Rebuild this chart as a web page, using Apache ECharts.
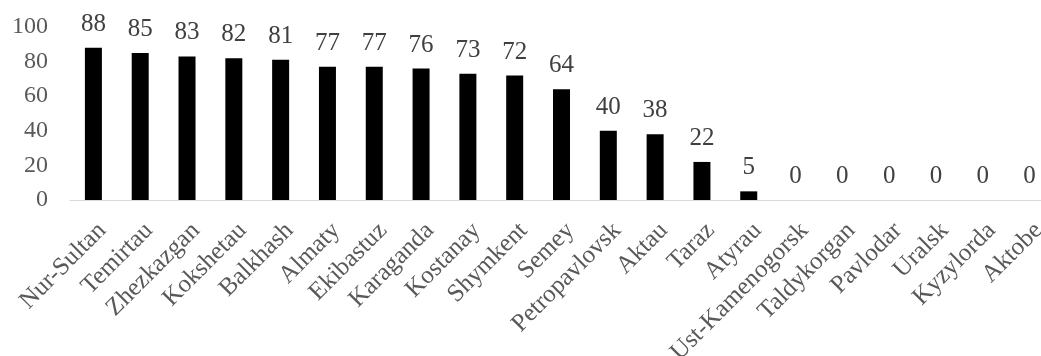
<!DOCTYPE html>
<html>
<head>
<meta charset="utf-8">
<script src="https://cdn.jsdelivr.net/npm/echarts@6/dist/echarts.min.js"></script>
<style>
  html, body { margin: 0; padding: 0; background: #fff; overflow: hidden; }
  #chart { width: 1041px; height: 356px; }
</style>
</head>
<body>
<div id="chart"></div>
<script>
// Cities, ordered by score
const cities = [
  'Nur-Sultan', 'Temirtau', 'Zhezkazgan', 'Kokshetau', 'Balkhash', 'Almaty',
  'Ekibastuz', 'Karaganda', 'Kostanay', 'Shymkent', 'Semey', 'Petropavlovsk',
  'Aktau', 'Taraz', 'Atyrau', 'Ust-Kamenogorsk', 'Taldykorgan', 'Pavlodar',
  'Uralsk', 'Kyzylorda', 'Aktobe'
];
// Score per city
const scores = [88, 85, 83, 82, 81, 77, 77, 76, 73, 72, 64, 40, 38, 22, 5, 0, 0, 0, 0, 0, 0];
// Value axis range
const yMin = 0;
const yMax = 100;
const yStep = 20;

const serif = "'Liberation Serif', 'Times New Roman', serif";

const chart = echarts.init(document.getElementById('chart'));
chart.setOption({
  animation: false,
  // plot area runs a little past the right edge of the canvas;
  // labels are allowed to spill past the canvas bottom
  grid: {
    left: 70, right: -12, top: 27, bottom: 156,
    containLabel: false,
    outerBoundsMode: 'none'
  },
  xAxis: {
    type: 'category',
    data: cities,
    axisLine: { show: true, lineStyle: { color: '#d9d9d9', width: 1 } },
    axisTick: { show: false },
    axisLabel: {
      rotate: 45,
      interval: 0,
      color: '#595959',
      fontFamily: serif,
      fontSize: 25,
      margin: 18,
      verticalAlign: 'top'
    }
  },
  yAxis: {
    type: 'value',
    min: yMin,
    max: yMax,
    interval: yStep,
    axisLine: { show: false },
    axisTick: { show: false },
    splitLine: { show: false },
    axisLabel: {
      color: '#595959',
      fontFamily: serif,
      fontSize: 24,
      margin: 22
    }
  },
  series: [{
    type: 'bar',
    data: scores,
    barWidth: 17,
    itemStyle: { color: '#000000' },
    label: {
      show: true,
      position: 'top',
      distance: 11,
      color: '#404040',
      fontFamily: serif,
      fontSize: 25
    }
  }]
});
</script>
</body>
</html>
